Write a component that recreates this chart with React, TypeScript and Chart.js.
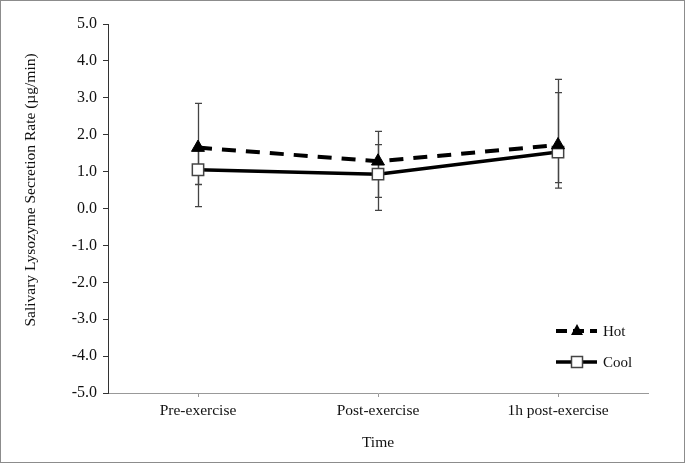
import React, { useEffect, useRef } from 'react';
import { Chart, registerables } from 'chart.js';

Chart.register(...registerables);

const categories = ['Pre-exercise', 'Post-exercise', '1h post-exercise'];
const hotValues = [1.65, 1.28, 1.72];
const coolValues = [1.05, 0.93, 1.53];
const hotUpper = [2.85, 2.09, 3.5];
const hotLower = [0.65, 0.3, 0.55];
const coolUpper = [1.6, 1.73, 3.14];
const coolLower = [0.05, -0.05, 0.7];
const yMin = -5;
const yMax = 5;
const yStep = 1;
const yTitle = 'Salivary Lysozyme Secretion Rate (µg/min)';
const xTitle = 'Time';
const seriesLabels = ['Hot', 'Cool'];

const FONT = "'Liberation Serif', 'Times New Roman', serif";

const errorBarPlugin = {
  id: 'errorBars',
  beforeDatasetsDraw(chart: any) {
    const { ctx, scales } = chart;
    const x = scales.x;
    const y = scales.y;
    const sets = [
      [hotUpper, hotLower],
      [coolUpper, coolLower],
    ];
    ctx.save();
    ctx.lineWidth = 1.3;
    ctx.strokeStyle = '#444';
    sets.forEach(([up, lo]) => {
      up.forEach((u: number, i: number) => {
        const px = Math.round(x.getPixelForValue(i)) + 0.5;
        const pu = y.getPixelForValue(u);
        const pl = y.getPixelForValue(lo[i]);
        ctx.beginPath();
        ctx.moveTo(px, pu);
        ctx.lineTo(px, pl);
        ctx.moveTo(px - 3.5, pu);
        ctx.lineTo(px + 3.5, pu);
        ctx.moveTo(px - 3.5, pl);
        ctx.lineTo(px + 3.5, pl);
        ctx.stroke();
      });
    });
    ctx.restore();
  },
};

const yTitlePlugin = {
  id: 'yTitle',
  afterDraw(chart: any) {
    const { ctx } = chart;
    ctx.save();
    ctx.translate(31, 190);
    ctx.rotate(-Math.PI / 2);
    ctx.fillStyle = '#111';
    ctx.font = `15.5px ${FONT}`;
    ctx.textAlign = 'center';
    ctx.textBaseline = 'middle';
    ctx.fillText(yTitle, 0, 0);
    ctx.restore();
  },
};

const legendPlugin = {
  id: 'customLegend',
  afterDraw(chart: any) {
    const { ctx } = chart;
    const rows = [
      { label: seriesLabels[0], y: 331, dash: [11, 6], marker: 'tri' },
      { label: seriesLabels[1], y: 362, dash: [], marker: 'sq' },
    ];
    ctx.save();
    rows.forEach((r) => {
      ctx.beginPath();
      ctx.setLineDash(r.dash);
      ctx.lineWidth = r.marker === 'tri' ? 4 : 3.5;
      ctx.strokeStyle = '#000';
      ctx.moveTo(556, r.y);
      ctx.lineTo(597, r.y);
      ctx.stroke();
      ctx.setLineDash([]);
      const cx = 577;
      if (r.marker === 'tri') {
        ctx.beginPath();
        ctx.fillStyle = '#000';
        ctx.moveTo(cx, r.y - 7);
        ctx.lineTo(cx + 6, r.y + 4);
        ctx.lineTo(cx - 6, r.y + 4);
        ctx.closePath();
        ctx.fill();
      } else {
        ctx.fillStyle = '#fff';
        ctx.strokeStyle = '#444';
        ctx.lineWidth = 1.5;
        ctx.fillRect(cx - 5.5, r.y - 5.5, 11, 11);
        ctx.strokeRect(cx - 5.5, r.y - 5.5, 11, 11);
      }
      ctx.fillStyle = '#111';
      ctx.font = `15px ${FONT}`;
      ctx.textBaseline = 'middle';
      ctx.textAlign = 'left';
      ctx.fillText(r.label, 603, r.y + 1);
    });
    ctx.restore();
  },
};

const borderPlugin = {
  id: 'outerBorder',
  afterDraw(chart: any) {
    const { ctx, width, height } = chart;
    ctx.save();
    ctx.strokeStyle = '#8c8c8c';
    ctx.lineWidth = 1;
    ctx.strokeRect(0.5, 0.5, width - 1, height - 1);
    ctx.restore();
  },
};

export default function App() {
  const ref = useRef<HTMLCanvasElement>(null);
  useEffect(() => {
    document.body.style.margin = '0';
    if (!ref.current) return;
    const chart = new Chart(ref.current, {
      type: 'line',
      data: {
        labels: categories,
        datasets: [
          {
            label: seriesLabels[0],
            data: hotValues,
            borderColor: '#000',
            borderWidth: 4,
            borderDash: [14, 10],
            pointStyle: 'triangle',
            pointRadius: 7.5,
            pointBackgroundColor: '#000',
            pointBorderColor: '#000',
            pointBorderWidth: 1,
            fill: false,
            tension: 0,
          },
          {
            label: seriesLabels[1],
            data: coolValues,
            borderColor: '#000',
            borderWidth: 3.5,
            pointStyle: 'rect',
            pointRadius: 8,
            pointBackgroundColor: '#fff',
            pointBorderColor: '#444',
            pointBorderWidth: 1.5,
            fill: false,
            tension: 0,
          },
        ],
      },
      options: {
        responsive: false,
        animation: false,
        devicePixelRatio: 1,
        layout: { padding: { left: 0, right: 37, top: 24, bottom: 0 } },
        plugins: {
          legend: { display: false },
          tooltip: { enabled: false },
        },
        scales: {
          x: {
            type: 'category',
            offset: true,
            afterFit(s: any) {
              s.height = 70;
            },
            grid: {
              offset: false,
              drawOnChartArea: false,
              tickLength: 4,
              color: '#999',
            },
            border: { display: true, color: '#999', width: 1 },
            ticks: {
              color: '#111',
              font: { family: FONT, size: 15.5 },
              padding: 5,
              maxRotation: 0,
            },
            title: {
              display: true,
              text: xTitle,
              color: '#111',
              font: { family: FONT, size: 15.5 },
              padding: { top: 0, bottom: 11 },
            },
          },
          y: {
            min: yMin,
            max: yMax,
            afterFit(s: any) {
              s.width = 108;
            },
            grid: {
              drawOnChartArea: false,
              tickLength: 5,
              color: '#333',
            },
            border: { display: true, color: '#333', width: 1 },
            ticks: {
              stepSize: yStep,
              color: '#111',
              font: { family: FONT, size: 16 },
              padding: 6,
              callback: (v: any) => Number(v).toFixed(1),
            },
            title: { display: false },
          },
        },
      },
      plugins: [errorBarPlugin, yTitlePlugin, legendPlugin, borderPlugin],
    } as any);
    return () => chart.destroy();
  }, []);
  return <canvas ref={ref} width={685} height={463} style={{ display: 'block' }} />;
}
